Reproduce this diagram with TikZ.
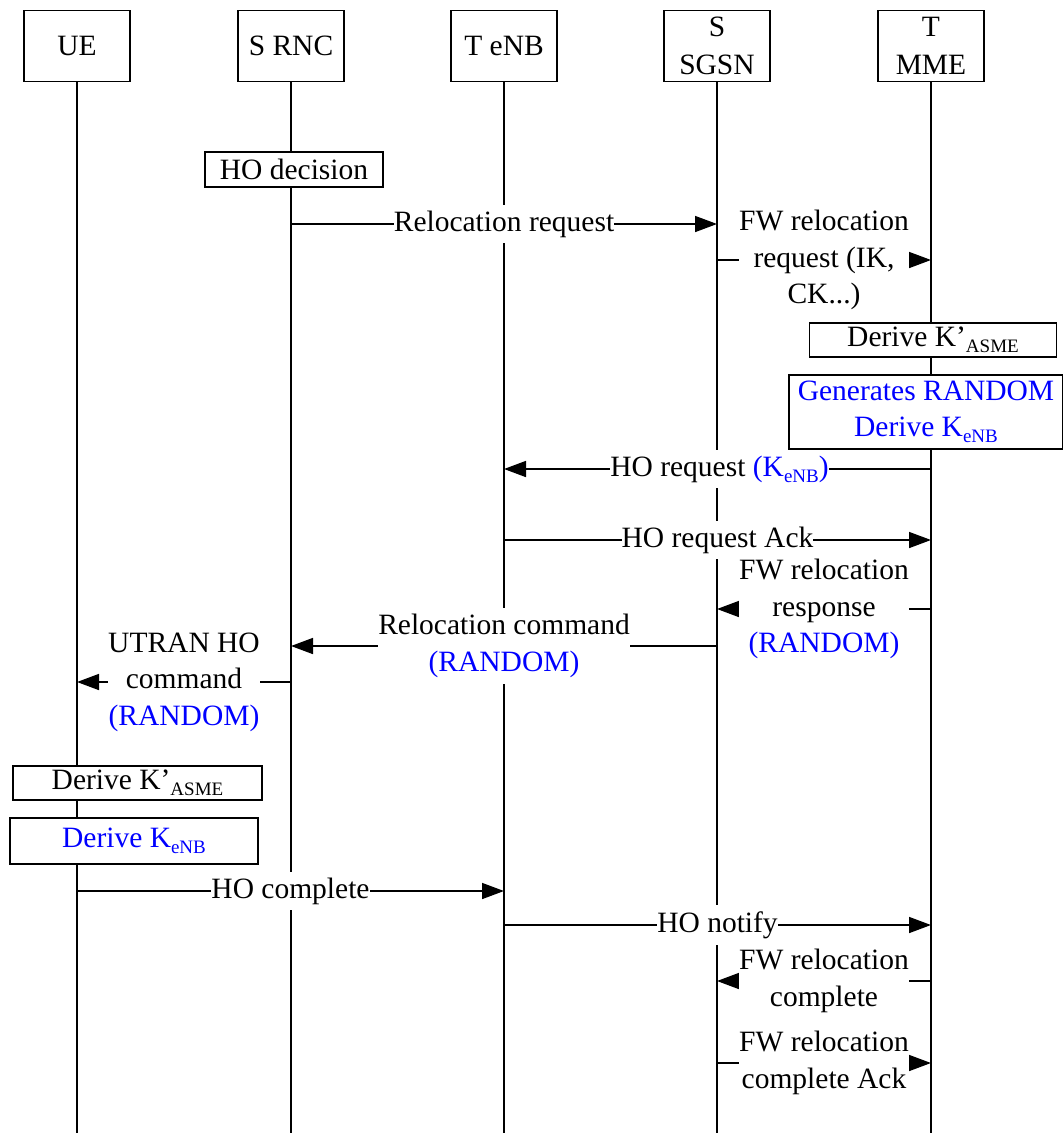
\documentclass[tikz,border=0pt]{standalone}
\usepackage{fontspec}
\setmainfont{Liberation Serif}
\usetikzlibrary{arrows.meta}
\definecolor{keyblue}{RGB}{0,0,255}
% lowered small index, as in K_ASME and K_eNB
\newcommand\lowsub[1]{\raisebox{-0.2em}{\fontsize{19}{19}\selectfont #1}}

\begin{document}
\begin{tikzpicture}[x=1pt,y=-1pt,
  every node/.style={font=\fontsize{29.5}{36.5}\selectfont},
  entity/.style={draw, line width=1.6pt, minimum width=106pt, minimum height=71pt,
    align=center, inner sep=0pt, font=\fontsize{29.5}{38}\selectfont},
  actbox/.style={draw, line width=1.6pt, fill=white, align=center, inner sep=0pt},
  msg/.style={line width=1.6pt, -{Triangle[length=22pt,width=16pt]}},
  lbl/.style={fill=white, align=center, inner xsep=0pt, inner ysep=6pt},
  life/.style={line width=1.6pt},
  blue/.style={text=keyblue}
]
\useasboundingbox (0,0) rectangle (1063,1133);

% entities
\node[entity] (ue)   at (77,46)  {UE};
\node[entity] (rnc)  at (291,46) {S RNC};
\node[entity] (enb)  at (504,46) {T eNB};
\node[entity] (sgsn) at (717,46) {S\\SGSN};
\node[entity] (mme)  at (931,46) {T\\MME};

% lifelines
\foreach \e in {ue,rnc,enb,sgsn,mme}
  \draw[life] (\e.south) -- (\e |- 0,1133);

% local actions
\node[actbox, minimum width=178pt, minimum height=35pt] (hodec) at (294,169.5) {HO decision};
\node[actbox, minimum width=247pt, minimum height=34pt] (mmeasme) at (933,340) {Derive K’\lowsub{ASME}};
\node[actbox, minimum width=274pt, minimum height=74pt, blue] (mmegen) at (926,412)
  {Generates RANDOM\\Derive K\lowsub{eNB}};
\node[actbox, minimum width=249pt, minimum height=34pt] (ueasme) at (137.5,783) {Derive K’\lowsub{ASME}};
\node[actbox, minimum width=248pt, minimum height=46pt, blue] (uekenb) at (134,841) {Derive K\lowsub{eNB}};

% messages
\draw[msg] (rnc |- 0,224) -- node[lbl] {Relocation request} (sgsn |- 0,224);
\draw[msg] (sgsn |- 0,260) -- node[lbl] {FW relocation\\request (IK,\\CK...)} (mme |- 0,260);
\draw[msg] (mme |- 0,469) -- node[lbl, xshift=2pt] {HO request \textcolor{keyblue}{(K\lowsub{eNB})}} (enb |- 0,469);
\draw[msg] (enb |- 0,540) -- node[lbl] {HO request Ack} (mme |- 0,540);
\draw[msg] (mme |- 0,609) -- node[lbl] {FW relocation\\response\\\textcolor{keyblue}{(RANDOM)}} (sgsn |- 0,609);
\draw[msg] (sgsn |- 0,646) -- node[lbl] {Relocation command\\\textcolor{keyblue}{(RANDOM)}} (rnc |- 0,646);
\draw[msg] (rnc |- 0,682) -- node[lbl] {UTRAN HO\\command\\\textcolor{keyblue}{(RANDOM)}} (ue |- 0,682);
\draw[msg] (ue |- 0,891) -- node[lbl] {HO complete} (enb |- 0,891);
\draw[msg] (enb |- 0,925) -- node[lbl] {HO notify} (mme |- 0,925);
\draw[msg] (mme |- 0,981) -- node[lbl] {FW relocation\\complete} (sgsn |- 0,981);
\draw[msg] (sgsn |- 0,1063) -- node[lbl] {FW relocation\\complete Ack} (mme |- 0,1063);
\end{tikzpicture}
\end{document}
